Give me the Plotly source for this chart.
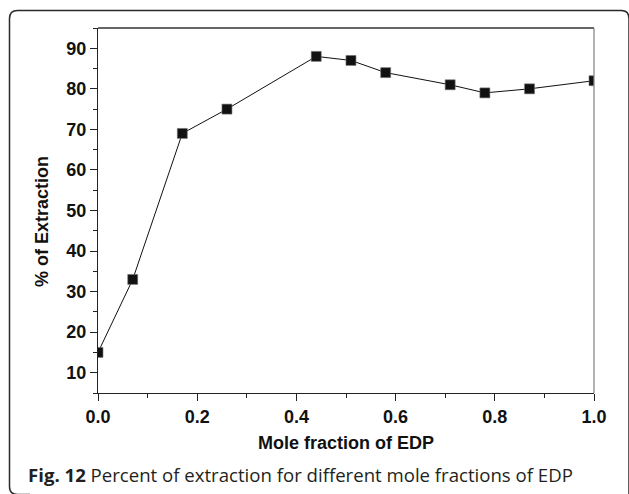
import plotly.graph_objects as go

# Data
mole_fraction = [0.0, 0.07, 0.17, 0.26, 0.44, 0.51, 0.58, 0.71, 0.78, 0.87, 1.0]
extraction = [15, 33, 69, 75, 88, 87, 84, 81, 79, 80, 82]
x_ticks = [0.0, 0.2, 0.4, 0.6, 0.8, 1.0]
y_ticks = [10, 20, 30, 40, 50, 60, 70, 80, 90]

W, H = 629, 494
ML, MR, MT, MB = 98, 35, 28, 101
PW = W - ML - MR
PH = H - MT - MB


def px(x):
    return (x - ML) / PW


def py(y):
    return (H - MB - y) / PH


AXFONT = dict(family="Liberation Sans, Arial, sans-serif", size=18, color="#111", weight="bold")

fig = go.Figure()
fig.add_trace(go.Scatter(
    x=mole_fraction, y=extraction, mode="lines+markers",
    line=dict(color="#111", width=1),
    marker=dict(symbol="square", size=10, color="#111", line=dict(color="#777", width=0.6)),
    showlegend=False,
))

fig.update_xaxes(
    range=[0, 1], tickvals=x_ticks, ticktext=[f"{v:.1f}" for v in x_ticks],
    showgrid=False, zeroline=False, showline=True, linecolor="#222", linewidth=1.4,
    ticks="outside", ticklen=7, tickwidth=1.3, tickcolor="#222", tickfont=AXFONT,
    minor=dict(dtick=0.1, tick0=0, ticks="outside", ticklen=4, tickwidth=1.2, tickcolor="#222"),
)
fig.update_yaxes(
    range=[5, 95], tickvals=y_ticks,
    showgrid=False, zeroline=False, showline=True, linecolor="#222", linewidth=1.4,
    ticks="outside", ticklen=7, tickwidth=1.3, tickcolor="#222", tickfont=AXFONT,
    minor=dict(dtick=5, tick0=5, ticks="outside", ticklen=4, tickwidth=1.2, tickcolor="#222"),
)

shapes = [
    # top frame line
    dict(type="line", xref="paper", yref="paper", x0=0, x1=1, y0=1, y1=1,
         line=dict(color="#333", width=1.3), layer="above"),
    # right frame line (lighter)
    dict(type="line", xref="paper", yref="paper", x0=1, x1=1, y0=0, y1=1,
         line=dict(color="#888", width=1.3), layer="above"),
]
border = (
    f"M {px(30)},{py(494.5)} L {px(17.5)},{py(494.5)} "
    f"Q {px(9.5)},{py(494.5)} {px(9.5)},{py(486.5)} "
    f"L {px(9.5)},{py(18.5)} Q {px(9.5)},{py(10.5)} {px(17.5)},{py(10.5)} "
    f"L {px(621)},{py(10.5)} Q {px(629)},{py(10.5)} {px(629)},{py(18.5)} "
    f"L {px(629)},{py(494.5)}"
)
shapes.append(dict(type="path", xref="paper", yref="paper", path=border,
                   line=dict(color="#2a2a2a", width=1.5)))

annotations = [
    dict(text="Mole fraction of EDP", xref="paper", yref="paper", x=px(346), y=py(443),
         xanchor="center", yanchor="middle", showarrow=False, font=AXFONT),
    dict(text="% of Extraction", xref="paper", yref="paper", x=px(42), y=py(222),
         xanchor="center", yanchor="middle", showarrow=False, textangle=-90, font=AXFONT),
    dict(text="<b>Fig. 12</b> Percent of extraction for different mole fractions of EDP",
         xref="paper", yref="paper", x=px(26), y=py(474), xanchor="left", yanchor="middle",
         showarrow=False, font=dict(family="Open Sans, sans-serif", size=18.6, color="#231f20")),
]

fig.update_layout(
    width=W, height=H, margin=dict(l=ML, r=MR, t=MT, b=MB),
    paper_bgcolor="white", plot_bgcolor="white",
    shapes=shapes, annotations=annotations,
)

fig.write_html("out.html")
